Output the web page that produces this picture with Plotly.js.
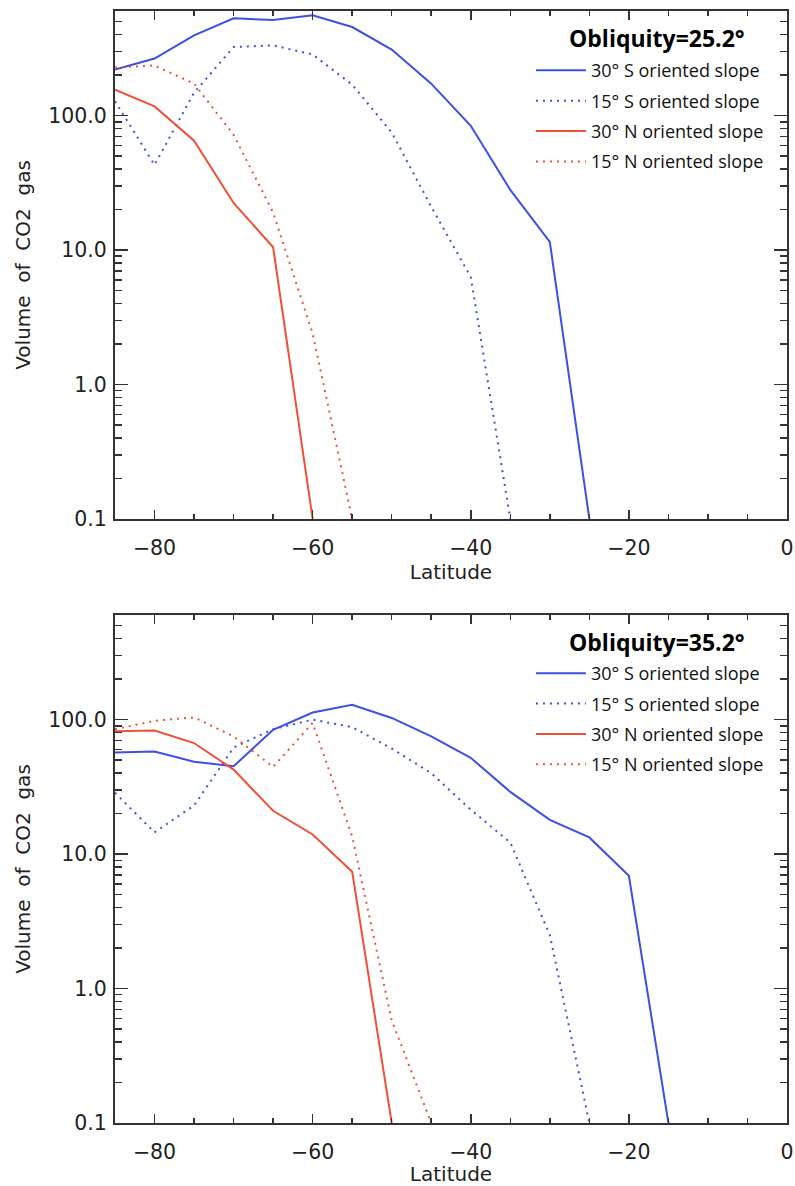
<!DOCTYPE html>
<html>
<head>
<meta charset="utf-8">
<script src="https://cdn.plot.ly/plotly-3.0.1.min.js"></script>
<style>
html,body{margin:0;padding:0;background:#fff;}
#chart{width:795px;height:1186px;}
</style>
</head>
<body>
<div id="chart"></div>
<script>
// ---- Data ----
// Obliquity = 25.2°
const lat25_S30 = [-85,-80,-75,-70,-65,-60,-55,-50,-45,-40,-35,-30,-25];
const vol25_S30 = [220,266,395,529,514,557,456,310,173,84,28,11.5,0.1];
const lat25_S15 = [-85,-80,-75,-70,-65,-60,-55,-50,-45,-40,-35];
const vol25_S15 = [128,43,148,324,333,285,170,75,21,6.3,0.1];
const lat25_N30 = [-85,-80,-75,-70,-65,-60];
const vol25_N30 = [156,117,65,22.4,10.5,0.1];
const lat25_N15 = [-85,-80,-75,-70,-65,-60,-55];
const vol25_N15 = [228,236,173,72,19,2.4,0.1];

// Obliquity = 35.2°
const lat35_S30 = [-85,-80,-75,-70,-65,-60,-55,-50,-45,-40,-35,-30,-25,-20,-15];
const vol35_S30 = [57,58,48.7,45,84,113,129,103,75,52,29,18,13.3,6.9,0.1];
const lat35_S15 = [-85,-80,-75,-70,-65,-60,-55,-50,-45,-40,-35,-30,-25];
const vol35_S15 = [28.6,14.5,23,62,85,100,88,61,40,21.4,12.2,2.5,0.1];
const lat35_N30 = [-85,-80,-75,-70,-65,-60,-55,-50];
const vol35_N30 = [82,83,67,42.5,21,14,7.4,0.1];
const lat35_N15 = [-85,-80,-75,-70,-65,-60,-55,-50,-45];
const vol35_N15 = [85,98,104,75,44.5,94.5,13.5,0.58,0.1];

const seriesNames = ["30° S oriented slope","15° S oriented slope","30° N oriented slope","15° N oriented slope"];
const panelTitles = ["Obliquity=25.2°","Obliquity=35.2°"];
const xTickVals = [-80,-60,-40,-20,0];
const yTickVals = [0.1,1,10,100];
const yTickText = ["0.1","1.0","10.0","100.0"];
const yMinorVals = [0.2,0.3,0.4,0.5,0.6,0.7,0.8,0.9,2,3,4,5,6,7,8,9,20,30,40,50,60,70,80,90,200,300,400,500];

// ---- Styles ----
const BLUE = "#3d50e4";
const RED = "#f04f38";
const DOT = "2px,5px";
const AX = "#333333";
const TXT = "#222222";
const TICKFONT = {family:"DejaVu Sans, sans-serif", size:20.5, color:TXT};

function tr(x,y,name,color,dash,xa,ya,leg,grp){
  return {x:x,y:y,name:name,type:"scatter",mode:"lines",
    line:{color:color,width:2,dash:dash},xaxis:xa,yaxis:ya,legend:leg,legendgroup:grp,hoverinfo:"skip"};
}

const data = [
  tr(lat25_S30,vol25_S30,seriesNames[0],BLUE,"solid","x","y","legend","a1"),
  tr(lat25_S15,vol25_S15,seriesNames[1],BLUE,DOT,"x","y","legend","a2"),
  tr(lat25_N30,vol25_N30,seriesNames[2],RED,"solid","x","y","legend","a3"),
  tr(lat25_N15,vol25_N15,seriesNames[3],RED,DOT,"x","y","legend","a4"),
  tr(lat35_S30,vol35_S30,seriesNames[0],BLUE,"solid","x2","y2","legend2","b1"),
  tr(lat35_S15,vol35_S15,seriesNames[1],BLUE,DOT,"x2","y2","legend2","b2"),
  tr(lat35_N30,vol35_N30,seriesNames[2],RED,"solid","x2","y2","legend2","b3"),
  tr(lat35_N15,vol35_N15,seriesNames[3],RED,DOT,"x2","y2","legend2","b4")
];

function xaxis(anchor){
  return {anchor:anchor, domain:[0,1], range:[-85,0], showgrid:false, zeroline:false,
    showline:true, linecolor:AX, linewidth:2, mirror:"allticks",
    ticks:"inside", ticklen:9, tickwidth:1.5, tickcolor:AX,
    tickvals:xTickVals, tickfont:TICKFONT, ticklabelstandoff:9,
    minor:{dtick:5, tick0:0, ticks:"inside", ticklen:5, tickwidth:1.5, tickcolor:AX, showgrid:false},
    title:{text:"Latitude", font:{family:"DejaVu Sans, sans-serif", size:20, color:TXT}, standoff:1}};
}
function yaxis(anchor, domain){
  return {anchor:anchor, domain:domain, type:"log", range:[-1, Math.log10(600)], showgrid:false, zeroline:false,
    showline:true, linecolor:AX, linewidth:2, mirror:"allticks",
    ticks:"inside", ticklen:13, tickwidth:1.5, tickcolor:AX,
    tickvals:yTickVals, ticktext:yTickText, tickfont:TICKFONT, ticklabelstandoff:2,
    minor:{tickvals:yMinorVals, ticks:"inside", ticklen:7, tickwidth:1.5, tickcolor:AX, showgrid:false},
    title:{text:"Volume\u00a0 of\u00a0 CO2\u00a0 gas", font:{family:"DejaVu Sans, sans-serif", size:20, color:TXT}, standoff:12}};
}

const legFont = {family:"Open Sans, sans-serif", size:18, color:"#111"};
const layout = {
  width:795, height:1186,
  margin:{l:115, r:8, t:11, b:63},
  paper_bgcolor:"#fff", plot_bgcolor:"#fff",
  showlegend:true,
  xaxis: xaxis("y"),
  yaxis: yaxis("x",[0.5432,1]),
  xaxis2: xaxis("y2"),
  yaxis2: yaxis("x2",[0,0.4568]),
  legend:{x:0.619, y:0.9631, xanchor:"left", yanchor:"top", bgcolor:"rgba(0,0,0,0)", borderwidth:0,
    font:legFont, traceorder:"grouped", tracegroupgap:4, itemwidth:50},
  legend2:{x:0.619, y:0.4209, xanchor:"left", yanchor:"top", bgcolor:"rgba(0,0,0,0)", borderwidth:0,
    font:legFont, traceorder:"grouped", tracegroupgap:4, itemwidth:50},
  annotations:[
    {text:"<b>"+panelTitles[0]+"</b>", xref:"x domain", yref:"y domain", x:0.8065, y:0.947,
     xanchor:"center", yanchor:"middle",
     showarrow:false, font:{family:"Open Sans, sans-serif", size:23, color:"#000"}},
    {text:"<b>"+panelTitles[1]+"</b>", xref:"x2 domain", yref:"y2 domain", x:0.8065, y:0.947,
     xanchor:"center", yanchor:"middle",
     showarrow:false, font:{family:"Open Sans, sans-serif", size:23, color:"#000"}}
  ]
};

Plotly.newPlot("chart", data, layout, {staticPlot:true, displayModeBar:false});
</script>
</body>
</html>
